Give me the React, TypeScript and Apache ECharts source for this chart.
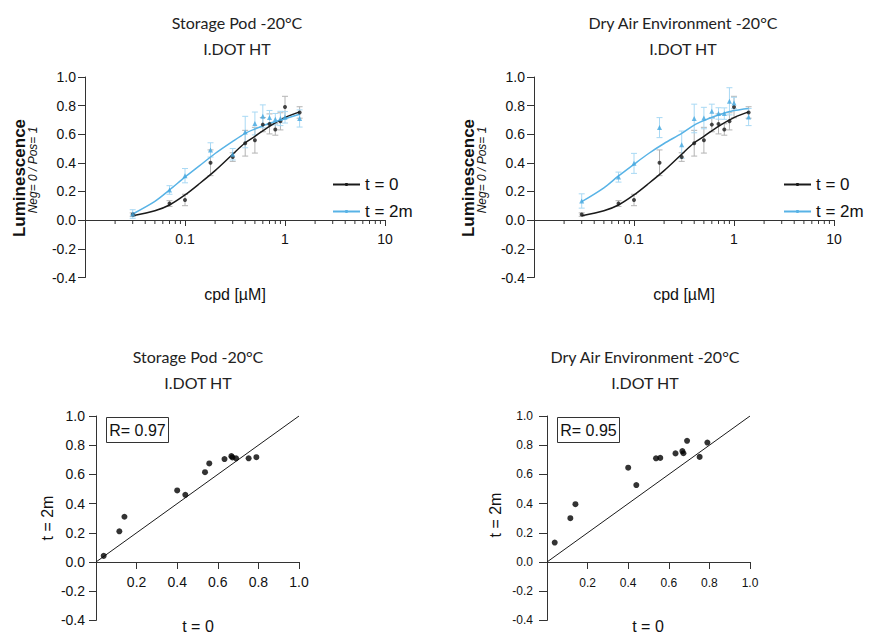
import React, { useEffect, useRef } from 'react';
import * as echarts from 'echarts';

// ---------- data ----------
const conc = [0.03, 0.07, 0.1, 0.18, 0.3, 0.4, 0.5, 0.6, 0.7, 0.8, 0.9, 1.0, 1.4];
const t0Values = [0.038, 0.115, 0.14, 0.4, 0.44, 0.537, 0.558, 0.667, 0.672, 0.633, 0.69, 0.79, 0.752];
const t0Err = [0.012, 0.02, 0.04, 0.09, 0.03, 0.09, 0.09, 0.05, 0.07, 0.04, 0.06, 0.075, 0.04];
const storage2m = [0.042, 0.21, 0.31, 0.49, 0.46, 0.615, 0.675, 0.725, 0.716, 0.705, 0.71, 0.718, 0.71];
const storage2mErr = [0.03, 0.03, 0.05, 0.05, 0.04, 0.11, 0.08, 0.08, 0.05, 0.04, 0.05, 0.04, 0.06];
const dry2m = [0.133, 0.3, 0.396, 0.646, 0.527, 0.71, 0.713, 0.76, 0.745, 0.744, 0.83, 0.818, 0.72];
const dry2mErr = [0.05, 0.035, 0.07, 0.07, 0.095, 0.1, 0.075, 0.05, 0.04, 0.04, 0.095, 0.04, 0.06];

// fitted curves
const fitX = [0.03, 0.05, 0.07, 0.1, 0.14, 0.2, 0.3, 0.4, 0.5, 0.7, 1.0, 1.4];
const fitT0 = [0.03, 0.065, 0.105, 0.175, 0.255, 0.345, 0.46, 0.54, 0.585, 0.655, 0.716, 0.756];
const fitStorage2m = [0.042, 0.13, 0.21, 0.3, 0.38, 0.465, 0.55, 0.606, 0.636, 0.676, 0.708, 0.74];
const fitDry2m = [0.128, 0.225, 0.308, 0.39, 0.465, 0.535, 0.606, 0.664, 0.695, 0.734, 0.765, 0.78];

const logMinorTicks = [
  0.02, 0.03, 0.04, 0.05, 0.06, 0.07, 0.08, 0.09,
  0.2, 0.3, 0.4, 0.5, 0.6, 0.7, 0.8, 0.9,
  2, 3, 4, 5, 6, 7, 8, 9,
];

const titleStorage = 'Storage Pod -20°C';
const titleDry = 'Dry Air Environment -20°C';
const subTitle = 'I.DOT HT';
const rStorage = 'R= 0.97';
const rDry = 'R= 0.95';
const legendNames = ['t = 0', 't = 2m'];

// ---------- styling ----------
const NUM_FONT = 'Liberation Sans, Arial, sans-serif';
const TITLE_FONT = 'Lato, Open Sans, sans-serif';
const BLACK = '#1a1a1a';
const BLUE = '#58b3e6';
const BLACK_ERR = '#b4b4b4';
const BLUE_ERR = '#a9d9f4';
const AXIS = '#333';

function errSeries(grid: number, values: number[], errs: number[], color: string) {
  return {
    type: 'custom',
    xAxisIndex: grid,
    yAxisIndex: grid,
    silent: true,
    z: 1,
    data: conc.map((c, i) => [c, values[i] - errs[i], values[i] + errs[i]]),
    encode: { x: 0, y: [1, 2] },
    renderItem: (params: any, api: any) => {
      const x = api.value(0);
      const top = api.coord([x, api.value(2)]);
      const bot = api.coord([x, api.value(1)]);
      const hw = 3;
      const st = { stroke: color, lineWidth: 1 };
      return {
        type: 'group',
        children: [
          { type: 'line', shape: { x1: top[0], y1: top[1], x2: bot[0], y2: bot[1] }, style: st },
          { type: 'line', shape: { x1: top[0] - hw, y1: top[1], x2: top[0] + hw, y2: top[1] }, style: st },
          { type: 'line', shape: { x1: bot[0] - hw, y1: bot[1], x2: bot[0] + hw, y2: bot[1] }, style: st },
        ],
      };
    },
  };
}

function minorTickSeries(grid: number) {
  return {
    type: 'custom',
    xAxisIndex: grid,
    yAxisIndex: grid,
    silent: true,
    clip: false,
    z: 5,
    data: logMinorTicks.map((v) => [v, 0]),
    encode: { x: 0, y: 1 },
    renderItem: (params: any, api: any) => {
      const p = api.coord([api.value(0), 0]);
      return {
        type: 'line',
        shape: { x1: p[0], y1: p[1], x2: p[0], y2: p[1] + 4 },
        style: { stroke: AXIS, lineWidth: 1 },
      };
    },
  };
}

function doseSeries(grid: number, t2m: number[], t2mErr: number[], fit2m: number[]) {
  return [
    errSeries(grid, t0Values, t0Err, BLACK_ERR),
    errSeries(grid, t2m, t2mErr, BLUE_ERR),
    {
      type: 'line',
      name: legendNames[0],
      xAxisIndex: grid,
      yAxisIndex: grid,
      data: fitX.map((x, i) => [x, fitT0[i]]),
      smooth: 0.3,
      symbol: 'none',
      lineStyle: { color: BLACK, width: 1.5 },
      itemStyle: { color: BLACK },
      z: 3,
    },
    {
      type: 'line',
      name: legendNames[1],
      xAxisIndex: grid,
      yAxisIndex: grid,
      data: fitX.map((x, i) => [x, fit2m[i]]),
      smooth: 0.3,
      symbol: 'none',
      lineStyle: { color: BLUE, width: 1.5 },
      itemStyle: { color: BLUE },
      z: 3,
    },
    {
      type: 'scatter',
      xAxisIndex: grid,
      yAxisIndex: grid,
      data: conc.map((c, i) => [c, t0Values[i]]),
      symbol: 'circle',
      symbolSize: 4,
      itemStyle: { color: BLACK },
      silent: true,
      z: 4,
    },
    {
      type: 'scatter',
      xAxisIndex: grid,
      yAxisIndex: grid,
      data: conc.map((c, i) => [c, t2m[i]]),
      symbol: 'triangle',
      symbolSize: 5,
      itemStyle: { color: '#45a7e0' },
      silent: true,
      z: 4,
    },
    minorTickSeries(grid),
  ];
}

function corrSeries(grid: number, t2m: number[]) {
  return [
    {
      type: 'line',
      xAxisIndex: grid,
      yAxisIndex: grid,
      data: [[0, 0], [1, 1]],
      symbol: 'none',
      lineStyle: { color: BLACK, width: 1 },
      silent: true,
      z: 2,
    },
    {
      type: 'scatter',
      xAxisIndex: grid,
      yAxisIndex: grid,
      data: t0Values.map((v, i) => [v, t2m[i]]),
      symbol: 'circle',
      symbolSize: 6,
      itemStyle: { color: '#000' },
      silent: true,
      z: 3,
    },
  ];
}

function doseXAxis(grid: number, visible: boolean) {
  return {
    gridIndex: grid,
    type: 'log',
    logBase: 10,
    min: 0.01,
    max: 10,
    show: visible,
    position: 'bottom',
    axisLine: { show: true, onZero: false, lineStyle: { color: AXIS, width: 1 } },
    axisTick: { show: true, length: 6, lineStyle: { color: AXIS } },
    axisLabel: {
      fontSize: 14,
      fontFamily: NUM_FONT,
      color: '#111',
      margin: 12,
      formatter: (v: number) => (v < 0.05 ? '' : v >= 1 ? v.toFixed(0) : v.toFixed(1)),
    },
    splitLine: { show: false },
  };
}

function corrXAxis(grid: number, visible: boolean, fontSize: number, margin: number) {
  return {
    gridIndex: grid,
    type: 'value',
    min: 0,
    max: 1.0,
    interval: 0.2,
    show: visible,
    position: 'bottom',
    axisLine: { show: true, onZero: false, lineStyle: { color: AXIS, width: 1 } },
    axisTick: { show: true, length: 7, lineStyle: { color: AXIS } },
    axisLabel: {
      fontSize,
      fontFamily: NUM_FONT,
      color: '#111',
      margin,
      formatter: (v: number) => (v === 0 ? '' : v.toFixed(1)),
    },
    splitLine: { show: false },
  };
}

function yAxisCfg(grid: number, upper: boolean, fontSize: number, margin: number, tickLen: number) {
  return {
    gridIndex: grid,
    type: 'value',
    min: upper ? 0 : -0.4,
    max: upper ? 1.0 : 0,
    interval: 0.2,
    position: 'left',
    axisLine: { show: true, onZero: false, lineStyle: { color: AXIS, width: 1 } },
    axisTick: { show: true, length: tickLen, lineStyle: { color: AXIS } },
    axisLabel: {
      fontSize,
      fontFamily: NUM_FONT,
      color: '#111',
      margin,
      formatter: (v: number) => (!upper && Math.abs(v) < 1e-9 ? '' : v.toFixed(1)),
    },
    splitLine: { show: false },
  };
}

function txt(text: string, x: number, y: number, fontSize: number, extra: any = {}) {
  return {
    type: 'text',
    x,
    y,
    rotation: extra.rotation || 0,
    silent: true,
    style: {
      text,
      fontSize,
      fontFamily: extra.fontFamily || NUM_FONT,
      fontWeight: extra.fontWeight || 'normal',
      fontStyle: extra.fontStyle || 'normal',
      fill: extra.fill || '#111',
      align: 'center',
      verticalAlign: 'middle',
      textAlign: 'center',
      textVerticalAlign: 'middle',
    },
  };
}

function legendCfg(left: number) {
  return {
    data: legendNames,
    orient: 'vertical',
    left,
    top: 171,
    itemWidth: 27,
    itemHeight: 4,
    itemGap: 10,
    selectedMode: false,
    textStyle: { fontSize: 17, fontFamily: NUM_FONT, color: '#111' },
  };
}

function gridCfg(left: number, top: number, width: number, height: number) {
  return { left, top, width, height, containLabel: false, outerBoundsMode: 'none' };
}

export default function App() {
  const ref = useRef<HTMLDivElement>(null);

  useEffect(() => {
    if (!ref.current) return;
    const chart = echarts.init(ref.current, undefined, { renderer: 'svg' });
    const option: any = {
      animation: false,
      backgroundColor: '#fff',
      grid: [
        gridCfg(85, 77, 300, 143),
        gridCfg(85, 220, 300, 57.5),
        gridCfg(534, 77, 300, 143),
        gridCfg(534, 220, 300, 57.5),
        gridCfg(96, 416, 203, 146),
        gridCfg(96, 562, 203, 58.4),
        gridCfg(547, 416, 203, 146),
        gridCfg(547, 562, 203, 58.4),
      ],
      xAxis: [
        doseXAxis(0, true),
        doseXAxis(1, false),
        doseXAxis(2, true),
        doseXAxis(3, false),
        corrXAxis(4, true, 14, 13),
        corrXAxis(5, false, 14, 13),
        corrXAxis(6, true, 12, 15),
        corrXAxis(7, false, 12, 15),
      ],
      yAxis: [
        yAxisCfg(0, true, 14, 9, 7),
        yAxisCfg(1, false, 14, 9, 7),
        yAxisCfg(2, true, 14, 9, 7),
        yAxisCfg(3, false, 14, 9, 7),
        yAxisCfg(4, true, 14, 11, 7),
        yAxisCfg(5, false, 14, 11, 7),
        yAxisCfg(6, true, 12, 14, 8),
        yAxisCfg(7, false, 12, 14, 8),
      ],
      legend: [legendCfg(327), legendCfg(778)],
      series: [
        ...doseSeries(0, storage2m, storage2mErr, fitStorage2m),
        ...doseSeries(2, dry2m, dry2mErr, fitDry2m),
        ...corrSeries(4, storage2m),
        ...corrSeries(6, dry2m),
      ],
      graphic: [
        // titles
        txt(titleStorage, 237, 22, 16, { fontFamily: TITLE_FONT, fill: '#222' }),
        txt(subTitle, 237, 48, 16, { fontFamily: TITLE_FONT, fill: '#222' }),
        txt(titleDry, 683, 22, 16, { fontFamily: TITLE_FONT, fill: '#222' }),
        txt(subTitle, 683, 48, 16, { fontFamily: TITLE_FONT, fill: '#222' }),
        txt(titleStorage, 198, 356, 16, { fontFamily: TITLE_FONT, fill: '#222' }),
        txt(subTitle, 198, 382, 16, { fontFamily: TITLE_FONT, fill: '#222' }),
        txt(titleDry, 645, 356, 16, { fontFamily: TITLE_FONT, fill: '#222' }),
        txt(subTitle, 645, 382, 16, { fontFamily: TITLE_FONT, fill: '#222' }),
        // dose axis names
        txt('cpd [µM]', 235, 294, 16),
        txt('cpd [µM]', 684, 294, 16),
        txt('Luminescence', 19, 178, 17, { fontWeight: 'bold', rotation: Math.PI / 2 }),
        txt('Neg= 0 / Pos= 1', 33, 170, 12, { fontStyle: 'italic', rotation: Math.PI / 2 }),
        txt('Luminescence', 468, 178, 17, { fontWeight: 'bold', rotation: Math.PI / 2 }),
        txt('Neg= 0 / Pos= 1', 482, 170, 12, { fontStyle: 'italic', rotation: Math.PI / 2 }),
        // correlation axis names
        txt('t = 0', 198, 626, 16),
        txt('t = 0', 648, 626, 16),
        txt('t = 2m', 47, 518, 16, { rotation: Math.PI / 2 }),
        txt('t = 2m', 495, 515, 16, { rotation: Math.PI / 2 }),
        // R boxes
        {
          type: 'rect',
          shape: { x: 106.5, y: 417.5, width: 62, height: 25 },
          style: { fill: '#fff', stroke: '#333', lineWidth: 1 },
          z: 10,
          silent: true,
        },
        { ...txt(rStorage, 137.5, 430, 16), z: 11 },
        {
          type: 'rect',
          shape: { x: 557.5, y: 417.5, width: 62, height: 25 },
          style: { fill: '#fff', stroke: '#333', lineWidth: 1 },
          z: 10,
          silent: true,
        },
        { ...txt(rDry, 588.5, 430, 16), z: 11 },
      ],
    };
    chart.setOption(option);
    return () => chart.dispose();
  }, []);

  return (
    <div
      ref={ref}
      style={{ position: 'absolute', left: 0, top: 0, width: 871, height: 633, background: '#fff' }}
    />
  );
}
